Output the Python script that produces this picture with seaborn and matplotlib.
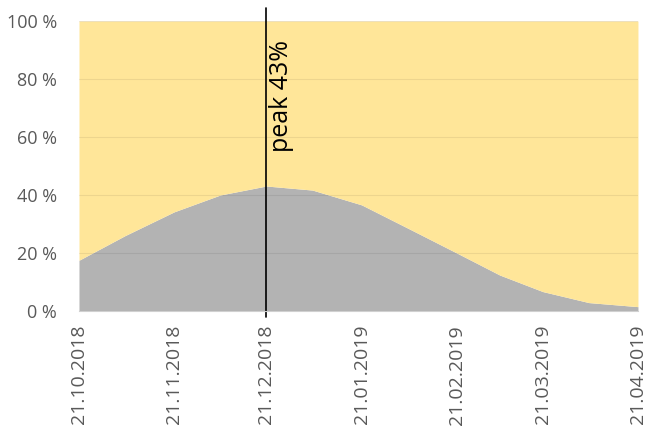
import pandas as pd
import numpy as np
import matplotlib
matplotlib.use("Agg")
import matplotlib.pyplot as plt
import matplotlib.dates as mdates
from matplotlib.ticker import FuncFormatter
import seaborn as sns

# dados
datas = ["2018-10-21", "2018-11-05", "2018-11-21", "2018-12-06", "2018-12-21",
         "2019-01-05", "2019-01-21", "2019-02-05", "2019-02-21", "2019-03-07",
         "2019-03-21", "2019-04-05", "2019-04-21"]
infectados = [17.5, 26.0, 34.2, 40.0, 43.1, 41.7, 36.6, 28.6, 20.0, 12.4, 6.7, 2.9, 1.5]
ticks = ["2018-10-21", "2018-11-21", "2018-12-21", "2019-01-21",
         "2019-02-21", "2019-03-21", "2019-04-21"]
pico = "2018-12-21"
rotulo_pico = "peak 43%"

df = pd.DataFrame({"Data": pd.to_datetime(datas), "Infectados": infectados})
df["Resto"] = 100 - df["Infectados"]

sns.set_style("white")
plt.rcParams["font.family"] = ["Open Sans", "DejaVu Sans"]

fig = plt.figure(figsize=(6.49, 4.34), dpi=100)
ax = fig.add_axes([0.1217, 0.2834, 0.8613, 0.6682])

ax.stackplot(df["Data"], df["Infectados"], df["Resto"],
             colors=["#b3b3b3", "#ffe699"], linewidth=0)

ax.set_xlim(df["Data"].iloc[0], df["Data"].iloc[-1])
ax.set_ylim(0, 100)
ax.set_yticks(range(0, 101, 20))
ax.yaxis.set_major_formatter(FuncFormatter(lambda v, p: f"{int(v)} %"))
ax.grid(axis="y", color="black", linewidth=0.8, alpha=0.07)
ax.set_axisbelow(False)

ax.set_xticks(pd.to_datetime(ticks))
ax.xaxis.set_major_formatter(mdates.DateFormatter("%d.%m.%Y"))
ax.tick_params(axis="x", rotation=90, length=6, color="#d0d0d0", labelsize=14,
               labelcolor="#595959", pad=4)
ax.tick_params(axis="y", length=0, labelsize=13, labelcolor="#595959", pad=16)

for s in ["top", "right", "left"]:
    ax.spines[s].set_visible(False)
ax.spines["bottom"].set_color("#d0d0d0")

ax.axvline(pd.to_datetime(pico), ymin=-0.02, ymax=1.045, color="black",
           linewidth=1.2, clip_on=False)
ax.text(pd.to_datetime(pico) + pd.Timedelta(days=1), 93.5, rotulo_pico,
        rotation=90, ha="left", va="top", fontsize=18, color="black")

fig.savefig("out.png", dpi=100)
